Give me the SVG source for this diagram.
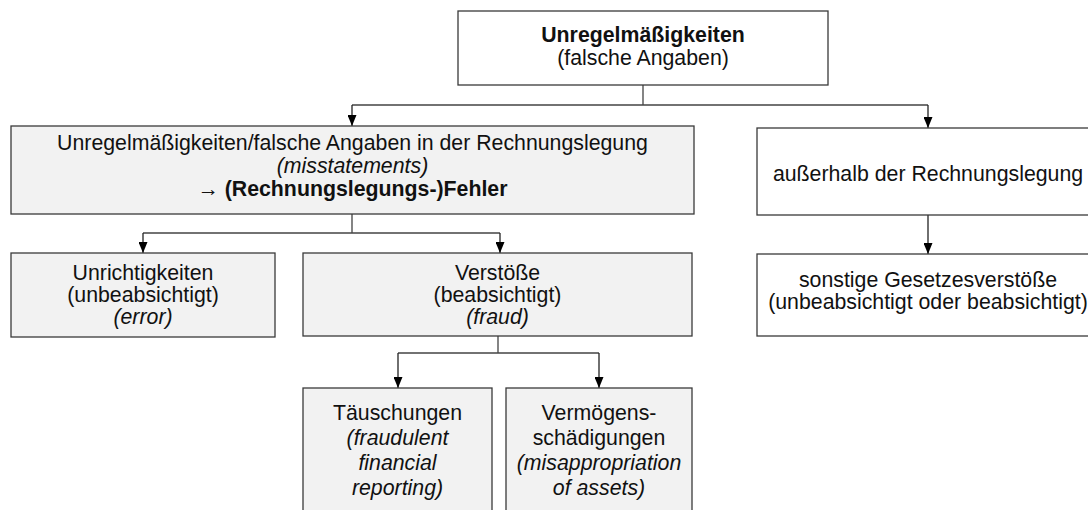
<svg xmlns="http://www.w3.org/2000/svg" width="1088" height="510" viewBox="0 0 1088 510">
  <defs>
    <marker id="arrow" markerUnits="userSpaceOnUse" markerWidth="11" markerHeight="9" refX="11" refY="4.5" orient="auto">
      <path d="M0,0 L11,4.5 L0,9 z" fill="#000"/>
    </marker>
    <style>
      .box { stroke: #3a3a3a; stroke-width: 1.3; }
      .grey { fill: #f2f2f2; }
      .white { fill: #ffffff; }
      text { font-family: "Liberation Sans", Arial, sans-serif; font-size: 21.3px; fill: #111; text-anchor: middle; }
      .b { font-weight: bold; }
      .i { font-style: italic; }
      .line { fill: none; stroke: #444; stroke-width: 1.3; }
      .arr { fill: none; stroke: #222; stroke-width: 1.3; marker-end: url(#arrow); }
    </style>
  </defs>
  <rect width="1088" height="510" fill="#ffffff"/>

  <!-- connectors -->
  <g id="connectors">
    <path class="line" d="M643,85 V105 M352,105 H928"/>
    <path class="arr" d="M352,105 V126"/>
    <path class="arr" d="M928,105 V128"/>
    <path class="line" d="M352,214 V233 M143,233 H500"/>
    <path class="arr" d="M143,233 V253"/>
    <path class="arr" d="M500,233 V253"/>
    <path class="line" d="M498,336 V353 M398,353 H599"/>
    <path class="arr" d="M398,353 V388"/>
    <path class="arr" d="M599,353 V388"/>
    <path class="arr" d="M928,215 V254"/>
  </g>

  <g id="root">
    <rect class="box white" x="458" y="11" width="370" height="74"/>
    <text x="643" y="42" class="b">Unregelmäßigkeiten</text>
    <text x="643" y="65">(falsche Angaben)</text>
  </g>

  <g id="accounting">
    <rect class="box grey" x="11" y="126" width="683" height="88"/>
    <text x="352.5" y="150">Unregelmäßigkeiten/falsche Angaben in der Rechnungslegung</text>
    <text x="352.5" y="173" class="i">(misstatements)</text>
    <text x="352.5" y="196"><tspan>→ </tspan><tspan class="b">(Rechnungslegungs-)Fehler</tspan></text>
  </g>

  <g id="outside">
    <rect class="box white" x="757" y="128" width="342" height="87"/>
    <text x="928" y="181">außerhalb der Rechnungslegung</text>
  </g>

  <g id="error">
    <rect class="box grey" x="11" y="253" width="264" height="84"/>
    <text x="143" y="280">Unrichtigkeiten</text>
    <text x="143" y="302">(unbeabsichtigt)</text>
    <text x="143" y="324" class="i">(error)</text>
  </g>

  <g id="fraud">
    <rect class="box grey" x="303" y="253" width="389" height="83"/>
    <text x="497.5" y="280">Verstöße</text>
    <text x="497.5" y="302">(beabsichtigt)</text>
    <text x="497.5" y="324" class="i">(fraud)</text>
  </g>

  <g id="other-violations">
    <rect class="box white" x="757" y="254" width="342" height="82"/>
    <text x="928" y="287">sonstige Gesetzesverstöße</text>
    <text x="928" y="309">(unbeabsichtigt oder beabsichtigt)</text>
  </g>

  <g id="reporting">
    <rect class="box grey" x="303" y="388" width="189" height="135"/>
    <text x="397.5" y="420">Täuschungen</text>
    <text x="397.5" y="445" class="i">(fraudulent</text>
    <text x="397.5" y="470" class="i">financial</text>
    <text x="397.5" y="495" class="i">reporting)</text>
  </g>

  <g id="assets">
    <rect class="box grey" x="506" y="388" width="186" height="135"/>
    <text x="599" y="420">Vermögens-</text>
    <text x="599" y="445">schädigungen</text>
    <text x="599" y="470" class="i" fill="#2a2a2a">(misappropriation</text>
    <text x="599" y="495" class="i" fill="#2a2a2a">of assets)</text>
  </g>
</svg>
